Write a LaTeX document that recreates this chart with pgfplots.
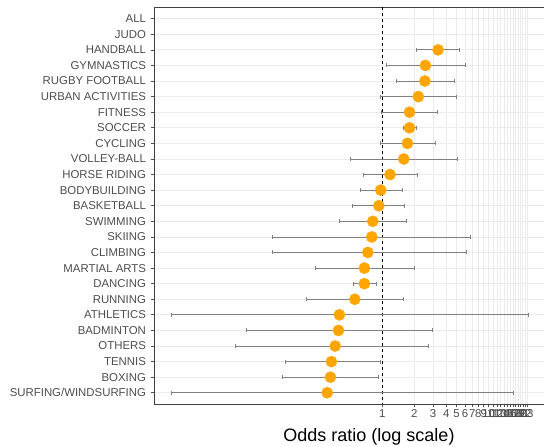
\documentclass[border=0pt]{standalone}
\usepackage{pgfplots}
\pgfplotsset{compat=1.18}
\usepackage{pgfplotstable}
\usepackage{fontspec}
\setmainfont{Liberation Sans}
\definecolor{gridc}{HTML}{EBEBEB}
\definecolor{txtc}{HTML}{4D4D4D}
\definecolor{orng}{HTML}{FFA500}
\definecolor{whisk}{HTML}{808080}

\pgfplotstableread{
y or lo hi
22 3.34 2.09 5.30
21 2.54 1.09 6.04
20 2.51 1.35 4.80
19 2.18 0.966 4.97
18 1.80 0.987 3.29
17 1.80 1.58 2.07
16 1.72 0.951 3.15
15 1.59 0.497 5.08
14 1.18 0.663 2.13
13 0.966 0.626 1.53
12 0.925 0.527 1.62
11 0.812 0.394 1.70
10 0.795 0.0931 6.68
9 0.729 0.0931 6.17
8 0.677 0.236 2.00
7 0.677 0.530 0.886
6 0.550 0.194 1.57
5 0.394 0.01035 23.8
4 0.386 0.0519 2.98
3 0.359 0.0411 2.73
2 0.331 0.123 0.951
1 0.324 0.114 0.911
0 0.302 0.01035 17.1
}\ortable

\begin{document}
\begin{tikzpicture}[x=1pt,y=1pt]
\path[use as bounding box] (0,0) rectangle (544,447);
\begin{axis}[
  at={(154pt,43pt)}, anchor=south west,
  scale only axis, width=430pt, height=397pt,
  xmode=log, xmin=0.00708, xmax=79,
  ymin=-0.72, ymax=24.75,
  xtick={1,2,3,4,5,6,7,8,9,10,11,12,13,14,15,16,17,18,19,20,21,22,23},
  xticklabels={1,2,3,4,5,6,7,8,9,10,11,12,13,14,15,16,17,18,19,20,21,22,23},
  minor xtick={},
  ytick={0,...,24},
  yticklabels={SURFING/WINDSURFING,BOXING,TENNIS,OTHERS,BADMINTON,ATHLETICS,RUNNING,DANCING,MARTIAL ARTS,CLIMBING,SKIING,SWIMMING,BASKETBALL,BODYBUILDING,HORSE RIDING,VOLLEY-BALL,CYCLING,SOCCER,FITNESS,URBAN ACTIVITIES,RUGBY FOOTBALL,GYMNASTICS,HANDBALL,JUDO,ALL},
  xmajorgrids, ymajorgrids,
  grid style={gridc, line width=0.8pt},
  axis line style={black!75, line width=0.7pt},
  tick style={black!70, line width=0.7pt},
  tick align=outside, major tick length=3.5pt,
  xtick pos=bottom, ytick pos=left,
  ticklabel style={font=\fontsize{11.4}{13}\selectfont, text=txtc},
  /pgf/number format/assume math mode=true,
  xticklabel style={yshift=1pt},
  yticklabel style={xshift=-1pt},
  xlabel={Odds ratio (log scale)},
  xlabel style={font=\fontsize{18}{20}\selectfont, yshift=-3pt},
  clip=true,
  unbounded coords=jump,
]
\addplot[black, dashed, line width=0.8pt, forget plot] coordinates {(1,-2) (1,26)};
\addplot[whisk, line width=0.8pt, mark=|, mark size=2pt, mark options={solid}] table {
x y
2.09 22
5.30 22
nan nan
1.09 21
6.04 21
nan nan
1.35 20
4.80 20
nan nan
0.966 19
4.97 19
nan nan
0.987 18
3.29 18
nan nan
1.58 17
2.07 17
nan nan
0.951 16
3.15 16
nan nan
0.497 15
5.08 15
nan nan
0.663 14
2.13 14
nan nan
0.626 13
1.53 13
nan nan
0.527 12
1.62 12
nan nan
0.394 11
1.70 11
nan nan
0.0931 10
6.68 10
nan nan
0.0931 9
6.17 9
nan nan
0.236 8
2.00 8
nan nan
0.530 7
0.886 7
nan nan
0.194 6
1.57 6
nan nan
0.01035 5
23.8 5
nan nan
0.0519 4
2.98 4
nan nan
0.0411 3
2.73 3
nan nan
0.123 2
0.951 2
nan nan
0.114 1
0.911 1
nan nan
0.01035 0
17.1 0
};
\addplot[only marks, mark=*, mark size=5.6pt, mark options={fill=orng, draw=orng}] table[x=or, y=y] {\ortable};
\end{axis}
\end{tikzpicture}
\end{document}
